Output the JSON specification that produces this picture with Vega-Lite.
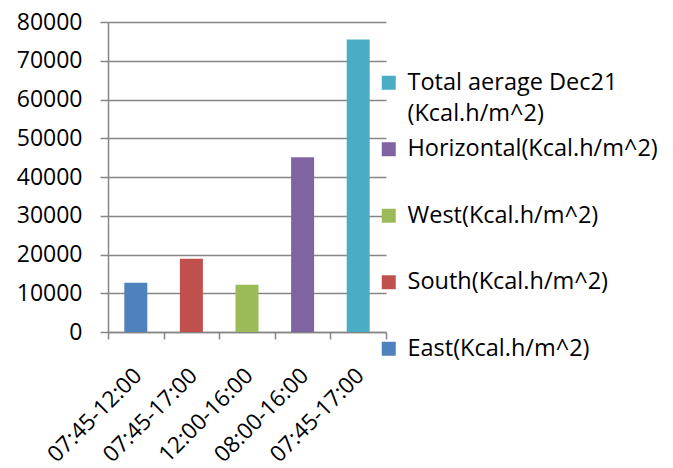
{
  "$schema": "https://vega.github.io/schema/vega-lite/v6.json",
  "autosize": "none",
  "width": 278,
  "height": 310,
  "padding": {"left": 108, "top": 22, "right": 287, "bottom": 136},
  "background": "white",
  "config": {
    "view": {"stroke": null},
    "font": "Open Sans",
    "style": {"guide-label": {"lineHeight": 31}}
  },
  "data": {
    "values": [
      {"pos": 1, "period": "07:45-12:00", "series": "East(Kcal.h/m^2)", "value": 12700},
      {"pos": 2, "period": "07:45-17:00", "series": "South(Kcal.h/m^2)", "value": 18900},
      {"pos": 3, "period": "12:00-16:00", "series": "West(Kcal.h/m^2)", "value": 12200},
      {"pos": 4, "period": "08:00-16:00", "series": "Horizontal(Kcal.h/m^2)", "value": 45100},
      {"pos": 5, "period": "07:45-17:00", "series": "Total aerage Dec21 (Kcal.h/m^2)", "value": 75500}
    ]
  },
  "mark": {"type": "bar", "width": 23},
  "encoding": {
    "x": {
      "field": "pos",
      "type": "ordinal",
      "scale": {"paddingInner": 0, "paddingOuter": 0},
      "axis": {
        "title": null,
        "labelExpr": "datum.value == 1 ? '07:45-12:00' : datum.value == 2 ? '07:45-17:00' : datum.value == 3 ? '12:00-16:00' : datum.value == 4 ? '08:00-16:00' : datum.value == 5 ? '07:45-17:00' : ''",
        "labelAngle": -45,
        "labelFontSize": 22.5,
        "labelColor": "#000000",
        "labelPadding": 25,
        "labelOffset": -6,
        "labelBound": false,
        "tickBand": "extent",
        "tickSize": 7,
        "tickColor": "#868686",
        "tickWidth": 1.5,
        "domainColor": "#868686",
        "domainWidth": 1.5,
        "grid": false
      }
    },
    "y": {
      "field": "value",
      "type": "quantitative",
      "scale": {"domain": [0, 80000], "nice": false},
      "axis": {
        "title": null,
        "values": [0, 10000, 20000, 30000, 40000, 50000, 60000, 70000, 80000],
        "format": "d",
        "labelFontSize": 23,
        "labelColor": "#000000",
        "labelPadding": 18,
        "tickSize": 8,
        "tickColor": "#868686",
        "tickWidth": 1.5,
        "domainColor": "#868686",
        "domainWidth": 1.5,
        "gridColor": "#868686",
        "gridWidth": 1.5
      }
    },
    "color": {
      "field": "series",
      "type": "nominal",
      "sort": ["Total aerage Dec21 (Kcal.h/m^2)", "Horizontal(Kcal.h/m^2)", "West(Kcal.h/m^2)", "South(Kcal.h/m^2)", "East(Kcal.h/m^2)"],
      "scale": {
        "domain": ["Total aerage Dec21 (Kcal.h/m^2)", "Horizontal(Kcal.h/m^2)", "West(Kcal.h/m^2)", "South(Kcal.h/m^2)", "East(Kcal.h/m^2)"],
        "range": ["#4BACC6", "#8064A2", "#9BBB59", "#C0504D", "#4F81BD"]
      },
      "legend": {
        "title": null,
        "orient": "none",
        "legendX": 269,
        "legendY": 49,
        "padding": 0,
        "gridAlign": "all",
        "symbolType": "square",
        "symbolSize": 196,
        "symbolStrokeWidth": 0,
        "labelFontSize": 23.5,
        "labelColor": "#000000",
        "labelLimit": 400,
        "labelOffset": 7,
        "rowPadding": 10.5,
        "labelExpr": "datum.label == 'Total aerage Dec21 (Kcal.h/m^2)' ? ['Total aerage Dec21', '(Kcal.h/m^2)'] : datum.label"
      }
    }
  }
}
